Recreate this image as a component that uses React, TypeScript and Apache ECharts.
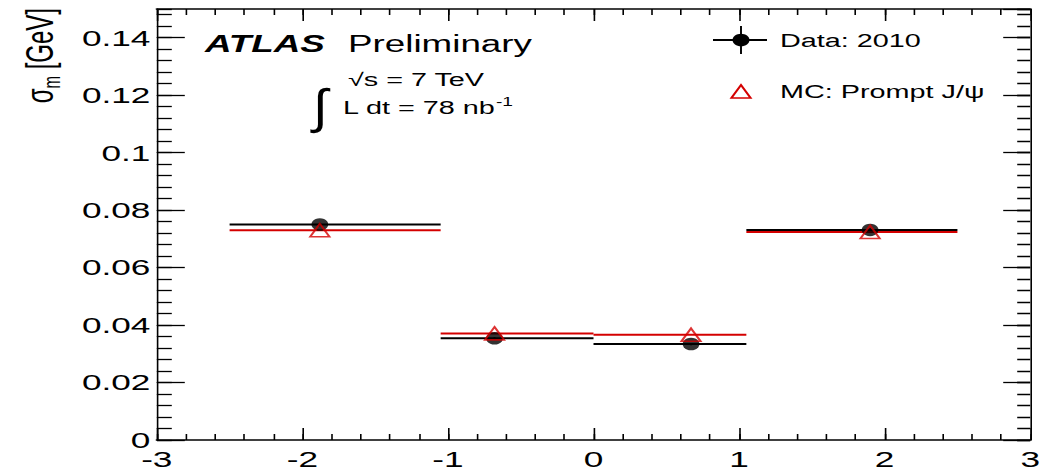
import React, { useEffect, useRef } from "react";
import * as echarts from "echarts";

// Mass resolution per rapidity bin
const binLow = [-2.5, -1.05, 0, 1.05];
const binHigh = [-1.05, 0, 1.05, 2.5];
const pointX = [-1.88, -0.68, 0.67, 1.9];
const dataSigma = [0.075, 0.0354, 0.0334, 0.0731];
const dataErr = [0.0006, 0.0004, 0.0004, 0.0006];
const mcSigma = [0.073, 0.0371, 0.0366, 0.0724];

const xMajorTicks = [-3, -2, -1, 0, 1, 2, 3];
const yMajorStep = 0.02;

// ROOT-style canvas: drawn narrow, then stretched horizontally
const STRETCH = 1.6;
const FULL_W = 1045;
const FULL_H = 471;
const W = FULL_W / STRETCH;
const FONT = "'Liberation Sans', Arial, Helvetica, sans-serif";
const sx = (px: number) => px / STRETCH;

function errorBarSeries(name: string, ys: number[], errs: number[] | null, color: string) {
  const rows = ys.map((y, i) => [
    pointX[i],
    y,
    binLow[i],
    binHigh[i],
    errs ? y - errs[i] : y,
    errs ? y + errs[i] : y,
  ]);
  return {
    name,
    type: "custom",
    xAxisIndex: 0,
    yAxisIndex: 0,
    encode: { x: [0, 2, 3], y: [1, 4, 5] },
    data: rows,
    z: 3,
    renderItem: (_params: any, api: any) => {
      const x = api.value(0);
      const y = api.value(1);
      const pl = api.coord([api.value(2), y]);
      const pr = api.coord([api.value(3), y]);
      const pb = api.coord([x, api.value(4)]);
      const pt = api.coord([x, api.value(5)]);
      return {
        type: "group",
        children: [
          {
            type: "line",
            shape: { x1: pl[0], y1: pl[1], x2: pr[0], y2: pr[1] },
            style: { stroke: color, lineWidth: 2 },
          },
          {
            type: "line",
            shape: { x1: pb[0], y1: pb[1], x2: pt[0], y2: pt[1] },
            style: { stroke: color, lineWidth: 1.2 },
          },
        ],
      };
    },
  };
}

function valueAxis(
  kind: "x" | "y",
  position: string,
  interval: number,
  tickLen: number,
  labels: boolean,
  line: boolean
) {
  const isX = kind === "x";
  return {
    type: "value",
    position,
    min: isX ? xMajorTicks[0] : 0,
    max: isX ? xMajorTicks[xMajorTicks.length - 1] : 0.15,
    interval,
    splitLine: { show: false },
    axisLine: { show: line, onZero: false, lineStyle: { color: "#000", width: isX ? 1.6 : 1 } },
    axisTick: {
      show: true,
      inside: true,
      length: tickLen,
      lineStyle: { color: "#000", width: isX ? 1 : 1.3 },
    },
    axisLabel: {
      show: labels,
      color: "#000",
      fontSize: 22,
      fontFamily: FONT,
      margin: isX ? 8 : 4,
      showMaxLabel: isX,
    },
  };
}

export default function App() {
  const ref = useRef<HTMLDivElement | null>(null);

  useEffect(() => {
    if (!ref.current) return;
    const chart = echarts.init(ref.current, null, { renderer: "svg" });

    const legendX = sx(741);
    const textStyleBase = { fill: "#000", fontFamily: FONT };

    chart.setOption({
      animation: false,
      backgroundColor: "#fff",
      textStyle: { fontFamily: FONT },
      grid: { left: 98, right: W - sx(1035), top: 9, bottom: 31, containLabel: false },
      xAxis: [
        valueAxis("x", "bottom", 1, 12, true, true),
        valueAxis("x", "bottom", 0.2, 6, false, false),
        valueAxis("x", "top", 1, 12, false, true),
        valueAxis("x", "top", 0.2, 6, false, false),
      ],
      yAxis: [
        valueAxis("y", "left", yMajorStep, sx(28), true, true),
        valueAxis("y", "left", yMajorStep / 5, sx(15), false, false),
        valueAxis("y", "right", yMajorStep, sx(27), false, true),
        valueAxis("y", "right", yMajorStep / 5, sx(13), false, false),
      ],
      series: [
        errorBarSeries("Data: 2010 bins", dataSigma, dataErr, "#000"),
        {
          name: "Data: 2010",
          type: "scatter",
          xAxisIndex: 0,
          yAxisIndex: 0,
          symbol: "circle",
          symbolSize: [10.5, 12.5],
          itemStyle: { color: "#000" },
          data: pointX.map((x, i) => [x, dataSigma[i]]),
          z: 4,
        },
        errorBarSeries("MC: Prompt J/ψ bins", mcSigma, null, "#d40000"),
        {
          name: "MC: Prompt J/ψ",
          type: "scatter",
          xAxisIndex: 0,
          yAxisIndex: 0,
          symbol: "triangle",
          symbolSize: [12, 13],
          itemStyle: { color: "rgba(0,0,0,0)", borderColor: "#d40000", borderWidth: 1.5 },
          data: pointX.map((x, i) => [x, mcSigma[i]]),
          z: 6,
        },
      ],
      graphic: [
        // y-axis title
        {
          type: "text",
          x: sx(40),
          y: 8,
          rotation: Math.PI / 2,
          style: {
            text: "{g|σ}{s|m}{g| [GeV]}",
            align: "right",
            verticalAlign: "middle",
            rich: {
              g: { fontSize: 24, fontFamily: FONT, fill: "#000" },
              s: { fontSize: 15, fontFamily: FONT, fill: "#000", padding: [15, 0, 0, 0] },
            },
          },
        },
        // experiment label
        {
          type: "text",
          x: sx(205),
          y: 44,
          style: {
            ...textStyleBase,
            text: "ATLAS",
            fontSize: 23,
            fontWeight: "bold",
            fontStyle: "italic",
            verticalAlign: "middle",
          },
        },
        {
          type: "text",
          x: sx(348),
          y: 44,
          style: { ...textStyleBase, text: "Preliminary", fontSize: 23, verticalAlign: "middle" },
        },
        // integrated luminosity
        {
          type: "text",
          x: sx(320),
          y: 107,
          scaleX: 0.7,
          style: {
            ...textStyleBase,
            text: "∫",
            fontSize: 48,
            align: "center",
            verticalAlign: "middle",
          },
        },
        {
          type: "text",
          x: sx(348),
          y: 80,
          style: { ...textStyleBase, text: "√s = 7 TeV", fontSize: 18, verticalAlign: "middle" },
        },
        {
          type: "text",
          x: sx(343),
          y: 108,
          style: {
            text: "{n|L dt = 78 nb}{p|-1}",
            verticalAlign: "middle",
            rich: {
              n: { fontSize: 18, fontFamily: FONT, fill: "#000" },
              p: { fontSize: 12, fontFamily: FONT, fill: "#000", padding: [0, 0, 12, 0] },
            },
          },
        },
        // legend: data entry
        {
          type: "line",
          shape: { x1: sx(713), y1: 40, x2: sx(767), y2: 40 },
          style: { stroke: "#000", lineWidth: 2 },
        },
        {
          type: "line",
          shape: { x1: legendX, y1: 26, x2: legendX, y2: 54 },
          style: { stroke: "#000", lineWidth: 1.2 },
        },
        {
          type: "ellipse",
          shape: { cx: legendX, cy: 40, rx: 5.3, ry: 6.3 },
          style: { fill: "#000" },
        },
        {
          type: "text",
          x: sx(780),
          y: 41,
          style: { ...textStyleBase, text: "Data: 2010", fontSize: 18, verticalAlign: "middle" },
        },
        // legend: MC entry
        {
          type: "polygon",
          shape: {
            points: [
              [legendX - 6, 98],
              [legendX + 6, 98],
              [legendX, 85],
            ],
          },
          style: { fill: "none", stroke: "#d40000", lineWidth: 1.5 },
        },
        {
          type: "text",
          x: sx(780),
          y: 92,
          style: { ...textStyleBase, text: "MC: Prompt J/ψ", fontSize: 18, verticalAlign: "middle" },
        },
      ],
    });

    return () => chart.dispose();
  }, []);

  return (
    <div
      style={{
        position: "absolute",
        left: 0,
        top: 0,
        width: FULL_W,
        height: FULL_H,
        overflow: "hidden",
        background: "#fff",
      }}
    >
      <div
        ref={ref}
        style={{
          width: W,
          height: FULL_H,
          transform: `scaleX(${STRETCH})`,
          transformOrigin: "0 0",
        }}
      />
    </div>
  );
}
